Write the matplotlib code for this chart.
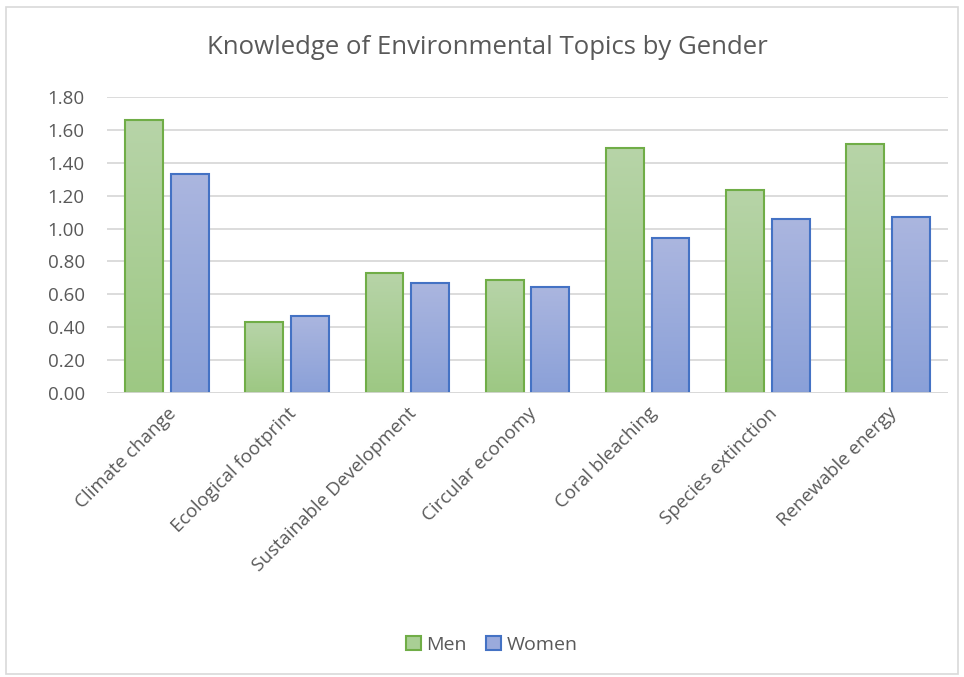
import numpy as np
import matplotlib.pyplot as plt
from matplotlib.patches import Rectangle, Patch
from matplotlib.colors import LinearSegmentedColormap

plt.rcParams['font.family'] = ['Open Sans', 'DejaVu Sans']

categories = ['Climate change', 'Ecological footprint', 'Sustainable Development',
              'Circular economy', 'Coral bleaching', 'Species extinction', 'Renewable energy']
men = [1.66, 0.43, 0.73, 0.69, 1.49, 1.235, 1.515]
women = [1.33, 0.47, 0.67, 0.645, 0.94, 1.06, 1.07]
yticks = [0.0, 0.2, 0.4, 0.6, 0.8, 1.0, 1.2, 1.4, 1.6, 1.8]

text_col = '#595959'
green_edge = '#70ad47'
blue_edge = '#4472c4'
green_cmap = LinearSegmentedColormap.from_list('g', ['#9dc883', '#b7d4a8'])
blue_cmap = LinearSegmentedColormap.from_list('b', ['#8aa0d8', '#abb6df'])

fig = plt.figure(figsize=(9.64, 6.77), dpi=100)
ax = fig.add_axes([107/964, (677-393)/677, 841/964, 296/677])

# outer chart border
fig.patches.append(Rectangle((6/964, 3/677), 952/964, 667/677, transform=fig.transFigure,
                             fill=False, edgecolor='#d9d9d9', linewidth=1.2))

x = np.arange(len(categories))
w = 0.315
gap = 0.065
grad = np.linspace(0, 1, 256).reshape(-1, 1)

def gradient_bars(xs, vals, cmap, edge):
    bars = ax.bar(xs, vals, width=w, color='none', edgecolor=edge, linewidth=1.5, zorder=3)
    for b in bars:
        x0, y0 = b.get_x(), b.get_y()
        im = ax.imshow(grad, cmap=cmap, origin='lower', aspect='auto', zorder=2,
                       extent=[x0, x0 + b.get_width(), y0, y0 + b.get_height()])
        im.set_clip_path(b)
    return bars

gradient_bars(x - (w + gap) / 2, men, green_cmap, green_edge)
gradient_bars(x + (w + gap) / 2, women, blue_cmap, blue_edge)

ax.set_xlim(-0.5, len(categories) - 0.5)
ax.set_ylim(0, 1.8)
ax.set_yticks(yticks)
ax.set_yticklabels([f'{v:.2f}' for v in yticks], fontsize=13.5, color=text_col)
ax.set_xticks(x)
ax.set_xticklabels(categories, rotation=45, ha='right', rotation_mode='anchor',
                   fontsize=13.5, color=text_col)
ax.tick_params(axis='y', length=0, pad=16)
ax.tick_params(axis='x', length=0, pad=8)
ax.grid(axis='y', color='#d9d9d9', linewidth=1.3, zorder=0)
for s in ax.spines.values():
    s.set_visible(False)
ax.axhline(0, color='#d9d9d9', linewidth=1.3, zorder=4)

fig.text(487/964, (677-47)/677, 'Knowledge of Environmental Topics by Gender',
         ha='center', va='center', fontsize=18.5, color=text_col)

handles = [Patch(facecolor='#a9cf95', edgecolor=green_edge, linewidth=1.5, label='Men'),
           Patch(facecolor='#9aaadc', edgecolor=blue_edge, linewidth=1.5, label='Women')]
leg = fig.legend(handles=handles, loc='center', bbox_to_anchor=(492/964, (677-645)/677),
                 ncol=2, frameon=False, fontsize=14, handlelength=0.75, handleheight=0.75,
                 handletextpad=0.3, columnspacing=1.0)
for t in leg.get_texts():
    t.set_color(text_col)

fig.savefig('out.png', dpi=100)
